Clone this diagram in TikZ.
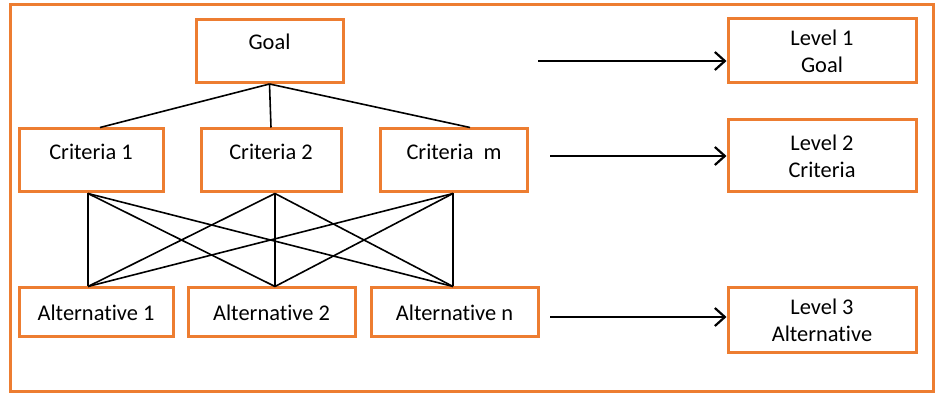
\documentclass[tikz,border=0pt]{standalone}
\usepackage{fontspec}
\setmainfont{Carlito}[Ligatures=NoCommon]
\usetikzlibrary{arrows.meta}
\definecolor{frameorange}{RGB}{237,125,49}

\begin{document}
\begin{tikzpicture}[x=0.5pt, y=-0.5pt,
	box/.style={draw=frameorange, line width=1.5pt, fill=white, align=center,
		font=\fontsize{11.2}{13.5}\selectfont, inner sep=0pt},
	upper/.style={text depth=9pt},
	link/.style={line width=0.8pt},
	arr/.style={line width=1.1pt, -{Straight Barb[length=5pt, width=9pt]}}]
	\useasboundingbox (0,0) rectangle (935,394);
	\fill [white] (0,0) rectangle (935,394);
	\draw [frameorange, line width=1.5pt] (10,5) rectangle (933,392);
	% hierarchy
	\node [box, upper, minimum width=73.5pt, minimum height=31.5pt] (goal) at (269.5,51) {Goal};
	\node [box, upper, minimum width=72pt, minimum height=31.5pt] (c1) at (91,160.5) {Criteria 1};
	\node [box, upper, minimum width=70pt, minimum height=31.5pt] (c2) at (271,160.5) {Criteria 2};
	\node [box, upper, minimum width=73.5pt, minimum height=31.5pt] (cm) at (454,160.5) {Criteria\ \ m};
	\node [box, minimum width=77pt, minimum height=24.5pt] (a1) at (96,312.5) {Alternative 1};
	\node [box, minimum width=83.5pt, minimum height=24.5pt] (a2) at (271.5,312.5) {Alternative 2};
	\node [box, minimum width=83.5pt, minimum height=24.5pt] (an) at (454.5,312.5) {Alternative n};
	% levels
	\node [box, minimum width=94pt, minimum height=32pt] (l1) at (822,51) {Level 1\\Goal};
	\node [box, minimum width=94pt, minimum height=36pt] (l2) at (822,156) {Level 2\\Criteria};
	\node [box, minimum width=94pt, minimum height=32.5pt] (l3) at (822,320.5) {Level 3\\Alternative};
	\draw [link] (goal.south) -- ([xshift=4.5pt]c1.north);
	\draw [link] (goal.south) -- (c2.north);
	\draw [link] (goal.south) -- ([xshift=8pt]cm.north);
	\coordinate (t1) at ([xshift=-1.5pt]c1.south);
	\coordinate (t2) at ([xshift=2pt]c2.south);
	\coordinate (t3) at ([xshift=-0.5pt]cm.south);
	\coordinate (b1) at ([xshift=-4pt]a1.north);
	\coordinate (b2) at ([xshift=1.75pt]a2.north);
	\coordinate (b3) at ([xshift=-0.75pt]an.north);
	\foreach \i in {1,2,3}{
		\foreach \j in {1,2,3}{
			\draw [link] (t\i) -- (b\j);
		}
	}
	\coordinate (s1) at (538,61);
	\coordinate (s2) at (550,156);
	\coordinate (s3) at (550,317);
	\draw [arr] (s1) -- (s1 -| l1.west);
	\draw [arr] (s2) -- (s2 -| l2.west);
	\draw [arr] (s3) -- (s3 -| l3.west);
\end{tikzpicture}
\end{document}
